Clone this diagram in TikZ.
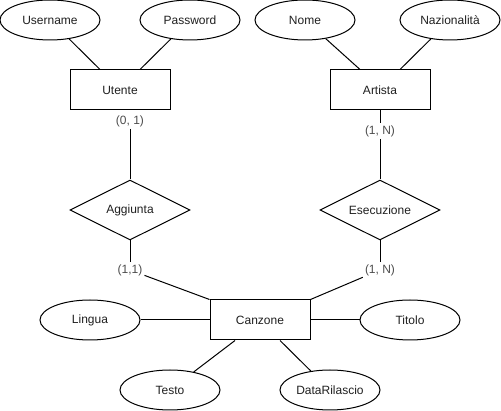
\documentclass[tikz,border=0pt]{standalone}
\usepackage{fontspec}
\setmainfont{Liberation Sans}
\usetikzlibrary{shapes.geometric}
\begin{document}
\begin{tikzpicture}[x=1pt,y=-1pt,
  every node/.style={font=\fontsize{12}{14}\selectfont, text=black!88},
  attr/.style={ellipse, draw=black, line width=1pt, minimum width=100pt, minimum height=40pt, inner sep=0pt},
  entity/.style={rectangle, draw=black, line width=1pt, minimum width=100pt, minimum height=40pt, inner sep=0pt},
  rel/.style={diamond, aspect=2, draw=black, line width=1pt, minimum width=120pt, minimum height=60pt, inner sep=0pt},
  card/.style={text=black!70, inner sep=2pt},
  conn/.style={draw=black, line width=1pt}]
\useasboundingbox (0,0) rectangle (501,411);
% entities
\node[entity] (utente) at (120,90) {Utente};
\node[entity] (artista) at (380,90) {Artista};
\node[entity] (canzone) at (260,320) {Canzone};
% attributes
\node[attr] (username) at (50,20) {Username};
\node[attr] (password) at (190,20) {Password};
\node[attr] (nome) at (305,20) {Nome};
\node[attr] (naz) at (450,20) {Nazionalità};
\node[attr] (lingua) at (90,320) {Lingua};
\node[attr] (titolo) at (410,320) {Titolo};
\node[attr] (testo) at (170,390) {Testo};
\node[attr] (data) at (330,390) {DataRilascio};
% relationships
\node[rel] (aggiunta) at (130,210) {Aggiunta};
\node[rel] (esecuzione) at (380,210) {Esecuzione};
% cardinalities
\node[card] (c01) at (130,121) {(0, 1)};
\node[card] (c1nA) at (380,131) {(1, N)};
\node[card] (c11) at (130,270) {(1,1)};
\node[card] (c1nC) at (380,270) {(1, N)};
% connectors
\draw[conn] (username) -- ([xshift=-20pt]utente.north);
\draw[conn] (password) -- ([xshift=20pt]utente.north);
\draw[conn] (nome) -- ([xshift=-20pt]artista.north);
\draw[conn] (naz) -- ([xshift=20pt]artista.north);
\draw[conn] (c01) -- (aggiunta);
\draw[conn] (artista) -- (c1nA);
\draw[conn] (c1nA) -- (esecuzione);
\draw[conn] (aggiunta) -- (c11);
\draw[conn] (esecuzione) -- (c1nC);
\draw[conn] (c11) -- (canzone.north west);
\draw[conn] (c1nC) -- (canzone.north east);
\draw[conn] (lingua) -- (canzone);
\draw[conn] (titolo) -- (canzone);
\draw[conn] (testo) -- ([xshift=-25pt]canzone.south);
\draw[conn] (data) -- ([xshift=20pt]canzone.south);
\end{tikzpicture}
\end{document}
